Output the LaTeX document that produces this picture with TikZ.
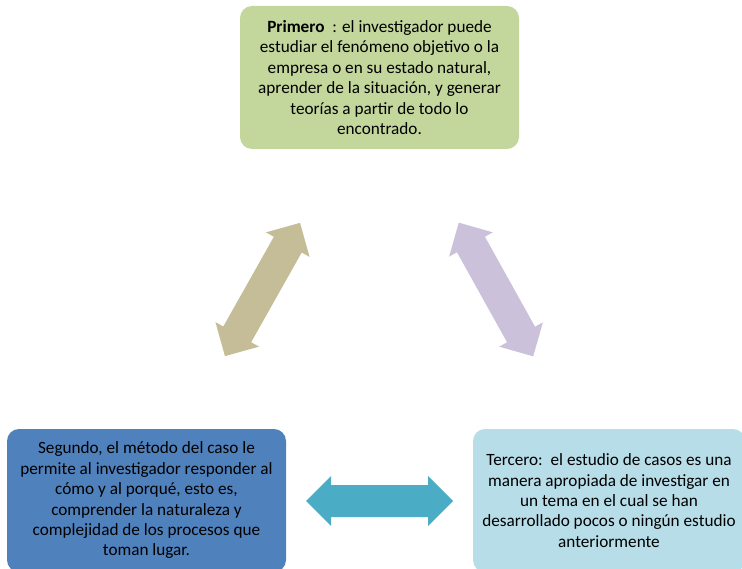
\documentclass[tikz,border=0pt]{standalone}
\usepackage{fontspec}
\setmainfont{Carlito}
\usetikzlibrary{calc}
\definecolor{primerofill}{HTML}{C3D69B}
\definecolor{segundofill}{HTML}{4F81BD}
\definecolor{tercerofill}{HTML}{B7DDE8}
\definecolor{arrowtan}{HTML}{C4BD97}
\definecolor{arrowlila}{HTML}{CCC1DA}
\definecolor{arrowteal}{HTML}{4BACC6}
\tikzset{casebox/.style={rounded corners=12pt,minimum height=143pt,inner sep=0pt,align=center,
		font=\fontsize{17.2}{20.4}\selectfont}}
% block arrow with two heads: colour, centre, angle, length
\newcommand{\twoway}[4]{%
	\pgfmathsetmacro{\halflen}{#4/2}
	\fill[#1,shift={(#2)},rotate=#3] (-\halflen,0) -- ++(25,25) -- ++(0,-9) -- (\halflen-25,16) -- ++(0,9)
	-- (\halflen,0) -- ++(-25,-25) -- ++(0,9) -- (-\halflen+25,-16) -- ++(0,-9) -- cycle;
}

\begin{document}
\begin{tikzpicture}[x=1pt,y=-1pt]
		\useasboundingbox (0,0) rectangle (742,569);
		\node[casebox,fill=primerofill,minimum width=279pt] (primero) at (379.5,77.5)
		{\textbf{Primero}\ \ : el investigador puede\\ estudiar el fenómeno objetivo o la\\
			empresa o en su estado natural,\\ aprender de la situación, y generar\\
			teorías a partir de todo lo\\ encontrado.};
		\node[casebox,fill=segundofill,minimum width=279pt] (segundo) at (146.5,500.5)
		{Segundo, el método del caso le\\ permite al investigador responder al\\
			cómo y al porqué, esto es,\\ comprender la naturaleza y\\
			complejidad de los procesos que\\ toman lugar.};
		\node[casebox,fill=tercerofill,minimum width=272pt] (tercero) at (609,500.5)
		{Tercero:\ \ el estudio de casos es una\\ manera apropiada de investigar en\\
			un tema en el cual se han\\ desarrollado pocos o ningún estudio\\ anteriormente};
		
		\twoway{arrowtan}{262.5,289.5}{60.6}{153}
		\twoway{arrowlila}{496,289.5}{-60.9}{153}
		\twoway{arrowteal}{379.5,501}{0}{147}
\end{tikzpicture}
\end{document}
